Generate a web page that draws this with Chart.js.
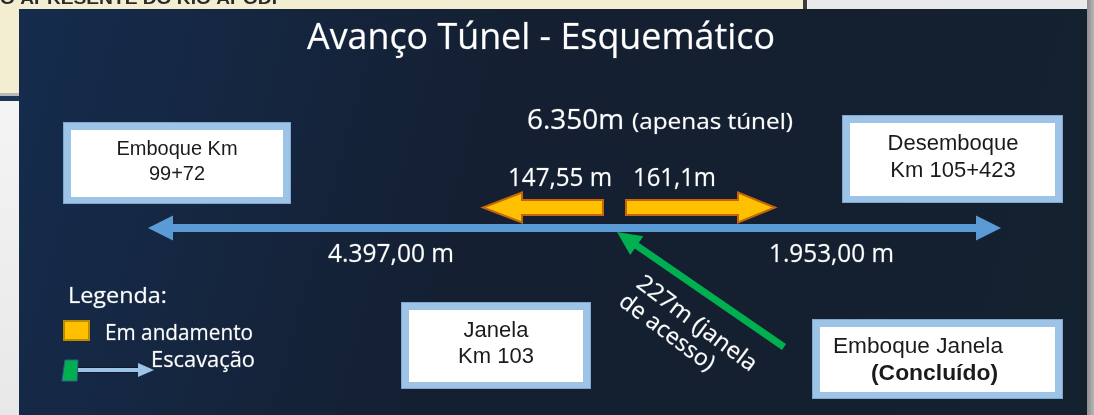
<!DOCTYPE html>
<html>
<head>
<meta charset="utf-8">
<script src="https://cdn.jsdelivr.net/npm/chart.js@4.4.1/dist/chart.umd.min.js"></script>
<style>
  html, body { margin: 0; padding: 0; background: #efefef; }
  canvas { display: block; }
</style>
</head>
<body>
<canvas id="tunel" width="1094" height="415"></canvas>
<script>
// values
const tunnelTotal = 6350;                          // m, tunnel only
const stretchNames = ['Emboque - Janela', 'Janela - Desemboque'];
const stretchLengths = [4397.00, 1953.00];         // m
const advanceNames = ['Frente Emboque', 'Frente Desemboque'];
const advanceLengths = [147.55, 161.1];            // m, em andamento
const accessLength = 227;                          // m, janela de acesso (concluído)
const siteLabels = [
    ['Emboque Km', '99+72'],
    ['Desemboque', 'Km 105+423'],
    ['Janela', 'Km 103'],
    ['Emboque Janela', '(Concluído)']
];
const legendLabels = ['Em andamento', 'Escavação'];

// schematic layout (drawing units = canvas px, not to scale)
const axisY = 228;
const mainArrow = { left: 148, right: 1001, head: 25, halfHead: 12.5 };
const orangeArrows = [
    { tip: 483, base: 522, end: 603 },
    { tip: 775, base: 738, end: 626 }
];
const orangeY = 207.5;
const access = { from: { x: 784, y: 347 }, tip: { x: 617, y: 232 } };
const boxes = [
    { x0: 63, y0: 122, x1: 291, y1: 204 },
    { x0: 842, y0: 115, x1: 1063, y1: 203 },
    { x0: 401, y0: 302, x1: 591, y1: 389 },
    { x0: 812, y0: 319, x1: 1063, y1: 399 }
];

function fmtBR(v, dec) {
    const parts = v.toFixed(dec).split('.');
    const intPart = parts[0].replace(/\B(?=(\d{3})+(?!\d))/g, '.');
    return parts.length > 1 ? intPart + ',' + parts[1] : intPart;
}

const WHITE_FONT = '"Open Sans", "DejaVu Sans", sans-serif';
const BOX_FONT = '"Liberation Sans", Arial, sans-serif';

// draw text squeezed/stretched to a target width
function fitText(ctx, s, x, y, font, color, width, align) {
    ctx.save();
    ctx.font = font;
    ctx.fillStyle = color;
    ctx.textBaseline = 'alphabetic';
    ctx.textAlign = align || 'left';
    const w = ctx.measureText(s).width;
    ctx.translate(x, y);
    if (width) ctx.scale(width / w, 1);
    ctx.fillText(s, 0, 0);
    if (color === '#ffffff') {
        // Calibri on the slide renders a bit heavier
        ctx.strokeStyle = 'rgba(255,255,255,0.35)';
        ctx.lineWidth = 0.6;
        ctx.strokeText(s, 0, 0);
    }
    ctx.restore();
}

function arrowHead(ctx, tip, from, len, half, color) {
    const a = Math.atan2(tip.y - from.y, tip.x - from.x);
    const bx = tip.x - len * Math.cos(a), by = tip.y - len * Math.sin(a);
    ctx.beginPath();
    ctx.moveTo(tip.x, tip.y);
    ctx.lineTo(bx + half * Math.sin(a), by - half * Math.cos(a));
    ctx.lineTo(bx - half * Math.sin(a), by + half * Math.cos(a));
    ctx.closePath();
    ctx.fillStyle = color;
    ctx.fill();
}

const backdrop = {
    id: 'backdrop',
    beforeDraw(chart) {
        const ctx = chart.ctx;
        ctx.save();
        // window behind the slide
        ctx.fillStyle = '#f0f0f0';
        ctx.fillRect(0, 0, 1094, 415);
        const lg = ctx.createLinearGradient(0, 100, 20, 415);
        lg.addColorStop(0, '#f4f4f4');
        lg.addColorStop(1, '#e8e8e8');
        ctx.fillStyle = lg;
        ctx.fillRect(0, 100, 20, 315);
        ctx.fillStyle = '#f3edd2';
        ctx.fillRect(0, 0, 805, 93);
        ctx.fillStyle = '#b8b8b8';
        ctx.fillRect(0, 93, 20, 3);
        ctx.fillStyle = '#1d3556';
        ctx.fillRect(0, 96, 20, 5);
        ctx.fillStyle = '#e9e9e9';
        ctx.fillRect(808, 0, 286, 10);
        ctx.fillStyle = '#3c3c3c';
        ctx.fillRect(803, 0, 4, 10);
        const rg = ctx.createLinearGradient(1087, 0, 1094, 0);
        rg.addColorStop(0, '#8e8e8e');
        rg.addColorStop(1, '#b5b5b5');
        ctx.fillStyle = rg;
        ctx.fillRect(1087, 0, 7, 415);
        fitText(ctx, 'O APRESENTE DO RIO APODI', 0, 4, 'bold 17px ' + BOX_FONT, '#2a2a2a', 277);

        // dark slide panel
        const g = ctx.createLinearGradient(19, 9, 1087, 300);
        g.addColorStop(0, '#152c4d');
        g.addColorStop(0.45, '#141f31');
        g.addColorStop(1, '#14212f');
        ctx.fillStyle = g;
        ctx.fillRect(19, 9, 1068, 406);
        ctx.restore();
    },
    afterDatasetsDraw(chart) {
        const ctx = chart.ctx;
        const xs = chart.scales.x, ys = chart.scales.y;
        const P = (x, y) => ({ x: xs.getPixelForValue(x), y: ys.getPixelForValue(y) });
        ctx.save();

        // main tunnel arrow heads
        const ay = axisY;
        arrowHead(ctx, P(mainArrow.left, ay), P(mainArrow.right, ay), mainArrow.head, mainArrow.halfHead, '#5b9bd5');
        arrowHead(ctx, P(mainArrow.right, ay), P(mainArrow.left, ay), mainArrow.head, mainArrow.halfHead, '#5b9bd5');

        // access (green) arrow head
        arrowHead(ctx, P(access.tip.x, access.tip.y), P(access.from.x, access.from.y), 24, 11.5, '#00b050');

        // orange block arrows (work in progress)
        orangeArrows.forEach(a => {
            const t = P(a.tip, orangeY), b = P(a.base, orangeY), e = P(a.end, orangeY);
            ctx.beginPath();
            ctx.moveTo(e.x, t.y - 7.5);
            ctx.lineTo(b.x, t.y - 7.5);
            ctx.lineTo(b.x, t.y - 15);
            ctx.lineTo(t.x, t.y);
            ctx.lineTo(b.x, t.y + 15);
            ctx.lineTo(b.x, t.y + 7.5);
            ctx.lineTo(e.x, t.y + 7.5);
            ctx.closePath();
            ctx.fillStyle = '#ffc000';
            ctx.fill();
            ctx.lineWidth = 2;
            ctx.strokeStyle = '#c5650e';
            ctx.stroke();
        });

        // site boxes
        boxes.forEach(b => {
            const p0 = P(b.x0, b.y0), p1 = P(b.x1, b.y1);
            ctx.fillStyle = '#9dc3e6';
            ctx.fillRect(p0.x, p0.y, p1.x - p0.x, p1.y - p0.y);
            ctx.strokeStyle = '#7ea6cf';
            ctx.lineWidth = 1;
            ctx.strokeRect(p0.x + 0.5, p0.y + 0.5, p1.x - p0.x - 1, p1.y - p0.y - 1);
            ctx.fillStyle = '#ffffff';
            ctx.fillRect(p0.x + 8, p0.y + 8, p1.x - p0.x - 16, p1.y - p0.y - 15);
        });
        const dark = '#1b1b1b';
        fitText(ctx, siteLabels[0][0], 177, 155, '20px ' + BOX_FONT, dark, null, 'center');
        fitText(ctx, siteLabels[0][1], 177, 180, '20px ' + BOX_FONT, dark, null, 'center');
        fitText(ctx, siteLabels[1][0], 953, 150, '22px ' + BOX_FONT, dark, null, 'center');
        fitText(ctx, siteLabels[1][1], 953, 177, '22px ' + BOX_FONT, dark, null, 'center');
        fitText(ctx, siteLabels[2][0], 496, 337, '22px ' + BOX_FONT, dark, null, 'center');
        fitText(ctx, siteLabels[2][1], 496, 363, '22px ' + BOX_FONT, dark, null, 'center');
        fitText(ctx, siteLabels[3][0], 833, 353, '22px ' + BOX_FONT, dark, 170);
        fitText(ctx, siteLabels[3][1], 871, 380, 'bold 22px ' + BOX_FONT, dark, 127);

        // white texts
        const W = '#ffffff';
        fitText(ctx, 'Avanço Túnel - Esquemático', 541, 49, '36px ' + WHITE_FONT, W, 468, 'center');
        fitText(ctx, fmtBR(tunnelTotal, 0) + 'm', 527, 129, '28px ' + WHITE_FONT, W, 97);
        fitText(ctx, '(apenas túnel)', 632, 129, '22px ' + WHITE_FONT, W, 161);
        fitText(ctx, fmtBR(advanceLengths[0], 2) + ' m', 508, 186, '26px ' + WHITE_FONT, W, 104);
        fitText(ctx, fmtBR(advanceLengths[1], 1) + 'm', 633, 186, '26px ' + WHITE_FONT, W, 83);
        fitText(ctx, fmtBR(stretchLengths[0], 2) + ' m', 328, 262, '26px ' + WHITE_FONT, W, 126);
        fitText(ctx, fmtBR(stretchLengths[1], 2) + ' m', 769, 262, '26px ' + WHITE_FONT, W, 125);

        // rotated access label
        const ang = Math.atan2(access.from.y - access.tip.y, access.from.x - access.tip.x);
        ctx.save();
        ctx.translate(635, 286);
        ctx.rotate(ang + 0.04);
        fitText(ctx, fmtBR(accessLength, 0) + 'm (janela', 0, 0, '23px ' + WHITE_FONT, W, 144);
        fitText(ctx, 'de acesso)', -3, 25, '23px ' + WHITE_FONT, W, 113);
        ctx.restore();

        // legend
        fitText(ctx, 'Legenda:', 68, 303, '22px ' + WHITE_FONT, W, 99);
        ctx.fillStyle = '#ffc000';
        ctx.fillRect(64, 321, 25, 19);
        ctx.strokeStyle = '#b98b00';
        ctx.lineWidth = 2;
        ctx.strokeRect(64, 321, 25, 19);
        fitText(ctx, legendLabels[0], 105, 340, '21px ' + WHITE_FONT, W, 148);
        // excavation symbol: small green plate + light-blue arrow
        ctx.beginPath();
        ctx.moveTo(65, 360); ctx.lineTo(78, 360); ctx.lineTo(77, 381); ctx.lineTo(62, 381);
        ctx.closePath();
        ctx.fillStyle = '#00b050';
        ctx.fill();
        ctx.strokeStyle = '#2f5f8a';
        ctx.lineWidth = 1;
        ctx.stroke();
        ctx.fillStyle = '#0f1a28';
        ctx.fillRect(78, 367, 62, 6);
        ctx.fillStyle = '#9dc3e6';
        ctx.fillRect(78, 368, 62, 4);
        arrowHead(ctx, { x: 154, y: 370 }, { x: 78, y: 370 }, 16, 7, '#9dc3e6');
        fitText(ctx, legendLabels[1], 151, 367, '21px ' + WHITE_FONT, W, 104);

        ctx.restore();
    }
};

new Chart(document.getElementById('tunel'), {
    type: 'scatter',
    data: {
        datasets: [
            {
                label: 'Túnel (' + stretchNames.join(' / ') + ')',
                type: 'line',
                data: [
                    { x: mainArrow.left + mainArrow.head - 2, y: axisY },
                    { x: mainArrow.right - mainArrow.head + 2, y: axisY }
                ],
                borderColor: '#5b9bd5',
                borderWidth: 8,
                pointRadius: 0,
                fill: false
            },
            {
                label: 'Janela de acesso',
                type: 'line',
                data: [
                    access.from,
                    {
                        x: access.tip.x + 20 * Math.cos(Math.atan2(access.from.y - access.tip.y, access.from.x - access.tip.x)),
                        y: access.tip.y + 20 * Math.sin(Math.atan2(access.from.y - access.tip.y, access.from.x - access.tip.x))
                    }
                ],
                borderColor: '#00b050',
                borderWidth: 7,
                pointRadius: 0,
                fill: false
            }
        ]
    },
    options: {
        responsive: false,
        animation: false,
        layout: { padding: 0 },
        plugins: { legend: { display: false }, tooltip: { enabled: false } },
        scales: {
            x: { type: 'linear', min: 0, max: 1094, display: false },
            y: { type: 'linear', min: 0, max: 415, reverse: true, display: false }
        }
    },
    plugins: [backdrop]
});
</script>
</body>
</html>
